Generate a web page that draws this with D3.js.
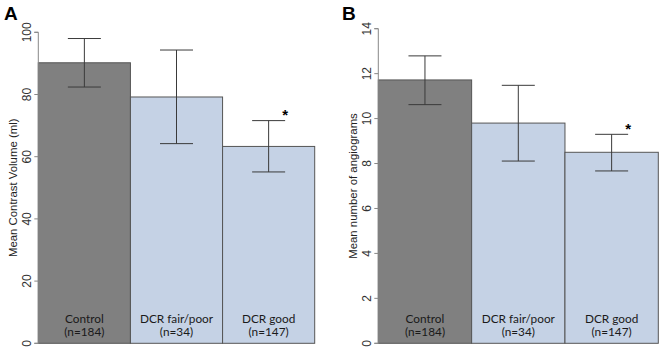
<!DOCTYPE html>
<meta charset="utf-8">
<style>
body { margin: 0; background: #fff; }
.tick text { font-family: "Liberation Sans", Arial, sans-serif; font-size: 12px; fill: #333; }
.ytitle { font-family: "Liberation Sans", Arial, sans-serif; font-size: 11.4px; fill: #222; }
.cat { font-family: Lato, "Open Sans", sans-serif; font-size: 11.8px; fill: #1a1a1a; }
.panel { font-family: "Liberation Sans", Arial, sans-serif; font-size: 19px; font-weight: bold; }
</style>
<script src="https://d3js.org/d3.v7.min.js"></script>
<body>
<script>

var width = 663,
    height = 349;

// shared categories
var groups = ["Control", "DCR fair/poor", "DCR good"];
var counts = ["(n=184)", "(n=34)", "(n=147)"];
var barColors = ["#808080", "#c5d2e5", "#c5d2e5"];

// panel A: contrast volume
var volMean = [90.2, 79.2, 63.3];
var volLow = [82.4, 64.2, 55.1];
var volHigh = [98.0, 94.3, 71.6];
var volTicks = [0, 20, 40, 60, 80, 100];

// panel B: number of angiograms
var angMean = [11.72, 9.80, 8.50];
var angLow = [10.62, 8.11, 7.67];
var angHigh = [12.79, 11.48, 9.30];
var angTicks = [0, 2, 4, 6, 8, 10, 12, 14];

var svg = d3.select("body").append("svg")
    .attr("width", width)
    .attr("height", height);

function panel(opt) {
  var y = d3.scaleLinear()
      .domain([0, opt.ymax])
      .range([343.3, opt.ytop]);

  var x = d3.scaleBand()
      .domain(groups)
      .range([opt.x0, opt.x1])
      .padding(0);

  var g = svg.append("g");

  var rows = groups.map(function(d, i) {
    return { name: d, n: counts[i], mean: opt.mean[i], lo: opt.lo[i], hi: opt.hi[i], fill: barColors[i] };
  });

  g.selectAll("rect")
    .data(rows)
    .enter().append("rect")
      .attr("x", function(d) { return x(d.name); })
      .attr("y", function(d) { return y(d.mean); })
      .attr("width", x.bandwidth())
      .attr("height", function(d) { return y(0) - y(d.mean); })
      .attr("fill", function(d) { return d.fill; })
      .attr("stroke", "#555")
      .attr("stroke-width", 1);

  // error bars
  var eb = g.selectAll(".err")
    .data(rows)
    .enter().append("g")
      .attr("class", "err")
      .attr("stroke", "#3a3a3a")
      .attr("stroke-width", 1);

  eb.append("line")
      .attr("x1", function(d) { return x(d.name) + x.bandwidth() / 2; })
      .attr("x2", function(d) { return x(d.name) + x.bandwidth() / 2; })
      .attr("y1", function(d) { return y(d.lo); })
      .attr("y2", function(d) { return y(d.hi); });

  [ "lo", "hi" ].forEach(function(k) {
    eb.append("line")
        .attr("x1", function(d) { return x(d.name) + x.bandwidth() / 2 - 16.5; })
        .attr("x2", function(d) { return x(d.name) + x.bandwidth() / 2 + 16.5; })
        .attr("y1", function(d) { return y(d[k]); })
        .attr("y2", function(d) { return y(d[k]); });
  });

  // category labels inside bars
  var lab = g.selectAll(".cat")
    .data(rows)
    .enter().append("text")
      .attr("class", "cat")
      .attr("text-anchor", "middle")
      .attr("x", function(d) { return x(d.name) + x.bandwidth() / 2; });
  lab.append("tspan")
      .attr("x", function(d) { return x(d.name) + x.bandwidth() / 2; })
      .attr("y", 322.5)
      .text(function(d) { return d.name; });
  lab.append("tspan")
      .attr("x", function(d) { return x(d.name) + x.bandwidth() / 2; })
      .attr("y", 336)
      .text(function(d) { return d.n; });

  // asterisk on last group
  var last = rows[2];
  g.append("text")
      .attr("x", x(last.name) + x.bandwidth() / 2 + 16.5)
      .attr("y", y(last.hi) - 0.5)
      .attr("text-anchor", "middle")
      .attr("font-family", "Liberation Sans, Arial, sans-serif")
      .attr("font-size", 15)
      .attr("font-weight", "bold")
      .text("*");

  // y axis
  var ax = g.append("g")
      .attr("transform", "translate(" + opt.x0 + ",0)")
      .call(d3.axisLeft(y).tickValues(opt.ticks).tickSize(4).tickPadding(5));
  ax.select(".domain").attr("stroke", "#888").attr("d", "M-4," + y(opt.ymax) + "H0V" + y(0) + "H-4");
  ax.selectAll(".tick line").attr("stroke", "#888");
  ax.selectAll(".tick text")
      .attr("transform", "rotate(-90)")
      .attr("text-anchor", "middle")
      .attr("x", function(d) { return -y(d); })
      .attr("y", -7.2)
      .attr("dy", 0)
      .attr("dominant-baseline", "auto");
  ax.selectAll(".tick").attr("transform", null);
  ax.selectAll(".tick line")
      .attr("y1", function(d) { return y(d); })
      .attr("y2", function(d) { return y(d); });

  g.append("text")
      .attr("class", "ytitle")
      .attr("transform", "translate(" + (opt.x0 - 21.5) + "," + ((y(0) + y(opt.ymax)) / 2) + ") rotate(-90)")
      .attr("text-anchor", "middle")
      .text(opt.title);

  svg.append("text")
      .attr("class", "panel")
      .attr("x", opt.letterX)
      .attr("y", 19.5)
      .text(opt.letter);
}

panel({ mean: volMean, lo: volLow, hi: volHigh, ticks: volTicks, ymax: 100, ytop: 32.3,
        x0: 38.3, x1: 314.7, title: "Mean Contrast Volume (ml)", letter: "A", letterX: 4 });

panel({ mean: angMean, lo: angLow, hi: angHigh, ticks: angTicks, ymax: 14, ytop: 28.7,
        x0: 378.3, x1: 658.3, title: "Mean number of angiograms", letter: "B", letterX: 342 });

</script>
</body>
